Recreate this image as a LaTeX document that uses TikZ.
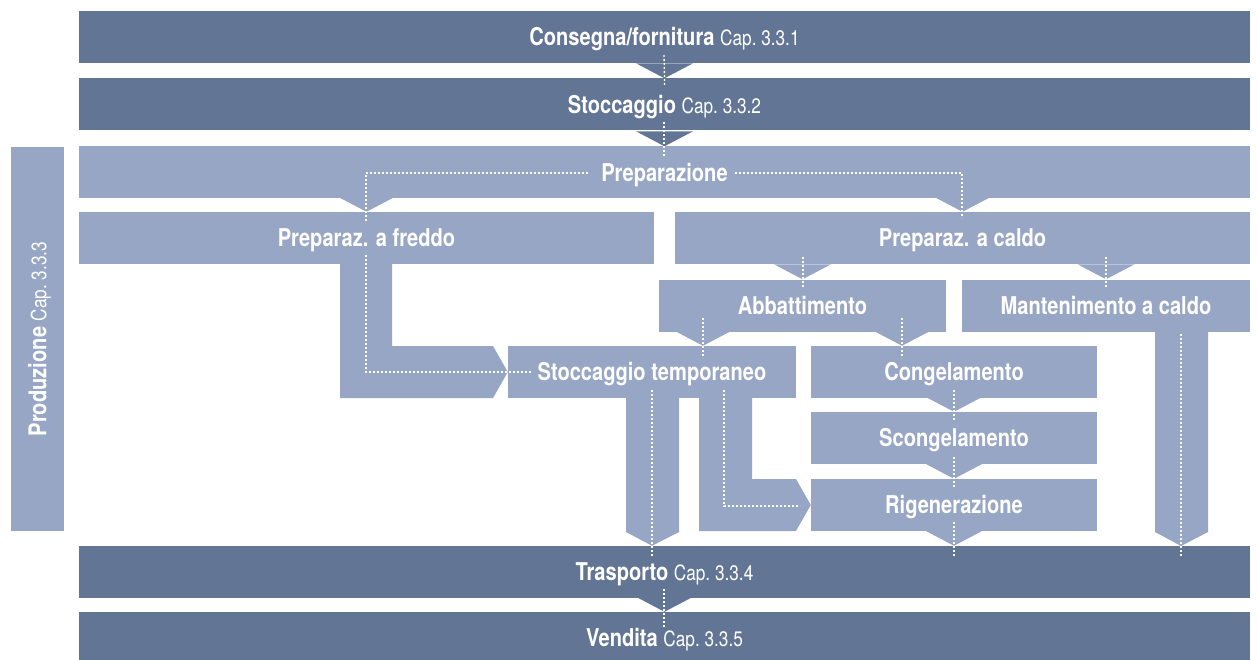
\documentclass[tikz,border=0pt]{standalone}
\usepackage{fontspec}
\setmainfont{TeX Gyre Heros}[FakeStretch=0.82]
\usetikzlibrary{calc}
\definecolor{darkblue}{RGB}{98,117,148}
\definecolor{lightblue}{RGB}{151,166,196}
\newcommand{\kap}[1]{{\mdseries\fontsize{21}{24}\selectfont Cap.~#1}}

\begin{document}
\begin{tikzpicture}[x=1pt,y=-1pt,every node/.style={inner sep=0pt, text=white, font=\bfseries\fontsize{24.5}{28}\selectfont, text height=17.6pt, text depth=0pt},bar/.style={fill=darkblue, minimum width=1171pt, minimum height=52pt},box/.style={fill=lightblue, minimum height=52pt},flow/.style={draw=white, line width=1.3pt, dash pattern=on 2pt off 2pt},pics/head/.style={code={\fill[#1] (-28.5,-15) -- (28.5,-15) -- (0,0) -- cycle;}}]
\useasboundingbox (0,0) rectangle (1257,660);
% main chain
\node[bar] (cons) at (664.5,37) {Consegna/fornitura \kap{3.3.1}};
\node[bar] (stoc) at (664.5,104.5) {Stoccaggio \kap{3.3.2}};
\node[box, minimum width=1171pt] (prep) at (664.5,172.5) {Preparazione};
\node[bar] (tras) at (664.5,572) {Trasporto \kap{3.3.4}};
\node[bar] (vend) at (664.5,638) {Vendita \kap{3.3.5}};
\node[box, rotate=90, minimum width=384pt, minimum height=53pt] (prod) at (37.5,339) {Produzione \kap{3.3.3}};
% production steps
\node[box, minimum width=575pt] (fred) at (366.5,238) {Preparaz. a freddo};
\node[box, minimum width=575pt] (cald) at (962.5,238) {Preparaz. a caldo};
\node[box, minimum width=287pt] (abba) at (802.5,305.5) {Abbattimento};
\node[box, minimum width=288pt] (mant) at (1106,305.5) {Mantenimento a caldo};
\node[box, minimum width=288pt] (temp) at (652,372) {Stoccaggio temporaneo};
\node[box, minimum width=286pt] (cong) at (954,372) {Congelamento};
\node[box, minimum width=286pt] (scon) at (954,438) {Scongelamento};
\node[box, minimum width=286pt] (rige) at (954,505) {Rigenerazione};
% arrow heads
\path (stoc.north) pic {head=darkblue};
\path (prep.north) pic {head=darkblue};
\path (vend.north) pic {head=darkblue};
\path (fred.north) pic {head=lightblue};
\path (cald.north) pic {head=lightblue};
\path (abba.north) pic {head=lightblue};
\path (mant.north) pic {head=lightblue};
\path ([xshift=51pt]temp.north) pic {head=lightblue};
\path ([xshift=-52pt]cong.north) pic {head=lightblue};
\path (scon.north) pic {head=lightblue};
\path (rige.north) pic {head=lightblue};
\path (rige.south |- tras.north) pic {head=lightblue};
% broad arrows
\fill[lightblue] (340,264) -- (392,264) -- (392,346) -- (493,346) -- (temp.west) -- (493,398) -- (340,398) -- cycle;
\fill[lightblue] (626,398) -- (679,398) -- (679,532) -- (temp.south |- tras.north) -- (626,532) -- cycle;
\fill[lightblue] (699,398) -- (752,398) -- (752,479) -- (796,479) -- (rige.west) -- (796,531) -- (699,531) -- cycle;
\fill[lightblue] (1155,332) -- (1208,332) -- (1208,532) -- (1181,546) -- (1155,532) -- cycle;
% dotted flow
\draw[flow] (664,55) -- (stoc.north) -- ++(0,8);
\draw[flow] (664,122) -- (664,157);
\draw[flow] (588,173) -- (366,173) -- (366,223);
\draw[flow] (735,173) -- (962,173) -- (962,218);
\draw[flow] (366,255) -- (366,372) -- (532,372);
\draw[flow] (803,257) -- (803,287);
\draw[flow] (1106,257) -- (1106,287);
\draw[flow] (703,318) -- (703,358);
\draw[flow] (902,318) -- (902,358);
\draw[flow] (954,390) -- (954,420);
\draw[flow] (954,457) -- (954,487);
\draw[flow] (954,522) -- (954,556);
\draw[flow] (652,390) -- (652,556);
\draw[flow] (724,390) -- (724,506) -- (800,506);
\draw[flow] (1181,334) -- (1181,556);
\draw[flow] (664,589) -- (664,627);
\end{tikzpicture}
\end{document}
